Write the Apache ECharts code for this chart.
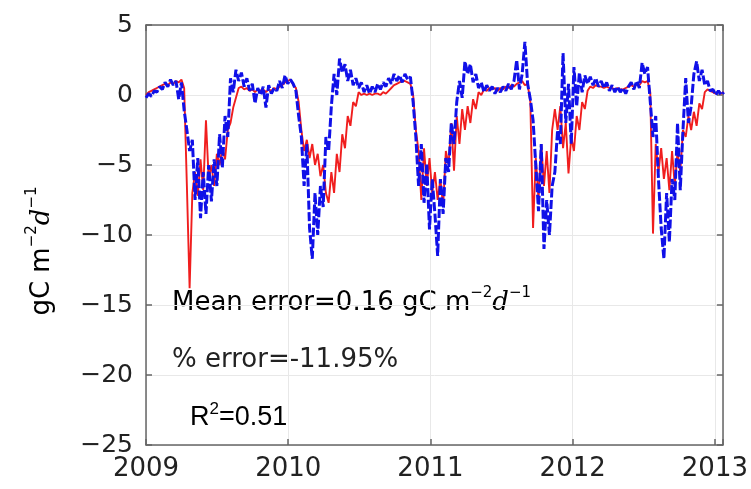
<!DOCTYPE html>
<html>
<head>
<meta charset="utf-8">
<script src="https://cdn.jsdelivr.net/npm/echarts@6/dist/echarts.min.js"></script>
<style>
  html, body { margin: 0; padding: 0; background: #ffffff; }
  #chart { width: 751px; height: 489px; }
</style>
</head>
<body>
<div id="chart"></div>
<script>
// Daily carbon flux, sampled weekly from 1 Jan 2009 (gC m-2 d-1)
const startYear = 2009;
const stepDays = 7;
const yearTicks = [2009, 2010, 2011, 2012, 2013];
const fluxTicks = [5, 0, -5, -10, -15, -20, -25];

// Observed (tower) flux
const observed = [
  -0.2, 0.1, -0.1, 0.3, 0.2, 0.6, 0.4, 0.9, 0.6, 1.1, 0.7, 1.0, -0.3, 0.9,
  -1.1, -2.5, -4.0, -3.2, -7.5, -4.5, -8.8, -5.5, -8.5, -5.0, -7.6, -4.6, -6.5, -2.8, -5.2, -1.5, -3.0,
  1.2, 0.2, 1.8, 1.0, 1.6, 0.6, 1.2, 0.3, 0.8, -0.6, 0.5, 0.0, 0.6, -0.9, 0.7, 0.1, 0.5, 0.3, 1.0, 0.5, 1.4, 0.8,
  1.1, 0.8, 0.3, -1.5, -3.0, -6.5, -3.5, -9.5, -11.7, -7.0, -10.0, -6.5, -8.0, -3.0, -4.0, -0.8,
  1.5, 0.0, 2.6, 1.6, 2.2, 1.0, 1.8, 0.7, 1.2, 0.5, 0.9, 0.2, 0.7, 0.1, 0.6, 0.2, 0.8, 0.4, 0.9, 0.6,
  1.2, 0.8, 1.5, 1.0, 1.4, 0.9, 1.5, 1.1, 1.3,
  -0.5, -3.0, -6.5, -3.5, -7.7, -4.9, -9.6,
  -6.0, -8.5, -11.5, -6.0, -8.5, -4.5, -5.5, -2.0, -3.5, -0.5, 1.0, -0.2, 2.4, 1.5, 2.2, 0.9,
  1.5, 0.5, 0.9, 0.2, 0.7, 0.3, 0.6, 0.1, 0.5, 0.2, 0.6, 0.3, 0.8, 0.4, 1.0,
  2.5, 0.4, 1.5, 3.8, 0.8, -0.3, -1.8, -5.0, -8.3, -3.5, -11.0, -7.5, -10.0, -6.5, -5.5, -2.5, -3.5, 3.0, -2.0, 0.8, -3.5,
  2.0, -0.8, 1.6, 0.2, 1.4, 0.8, 1.3, 0.7, 1.2, 0.6, 1.0, 0.5, 0.9, 0.3, 0.7, 0.2, 0.6, 0.2, 0.5, 0.1,
  0.6, 0.9, 0.4, 1.0, 0.5, 2.3, 1.5, 2.0,
  -0.5, -3.0, -1.5, -6.0, -9.5, -11.7, -7.0, -10.5, -6.0, -7.5, -2.0, -6.8, -2.5, 1.2, -2.0, -0.8,
  1.5, 2.4, 1.0, 1.8, 0.7, 1.0, 0.3, 0.4, 0.0, 0.3, 0.0, 0.2
];

// Modelled flux
const modelled = [
  0.0, 0.2, 0.3, 0.4, 0.5, 0.6, 0.7, 0.8, 0.7, 0.9, 0.8, 1.0, 0.9, 1.1,
  0.5, -6.5, -13.8, -7.0, -5.5, -7.2, -4.6, -6.8, -1.8, -6.0, -5.0, -6.5, -4.2, -5.0, -3.8, -4.6, -2.5, -2.0, -0.9, -0.2, 0.5, 0.6, 0.4,
  0.5, 0.3, 0.4, 0.2, 0.4, 0.3, 0.4, 0.2, 0.4, 0.3, 0.5, 0.4, 0.6, 0.7, 0.9, 1.0,
  1.1, 0.7, 0.5, -0.5, -2.5, -4.0, -3.2, -4.5, -3.5, -5.0, -4.2, -5.8, -5.0, -7.0, -7.7,
  -5.5, -7.0, -4.2, -5.5, -2.8, -3.8, -1.5, -2.2, -0.5, -0.8, 0.2, 0.0, 0.1, 0.0, 0.1,
  0.0, 0.1, 0.1, 0.0, 0.2, 0.1, 0.3, 0.5, 0.7, 0.8, 0.9, 1.0, 1.0, 0.9, 0.8,
  0.0, -2.5, -4.0, -7.5, -3.8, -6.5, -4.5,
  -7.0, -5.5, -7.5, -6.0, -8.0, -4.0, -5.0, -2.0, -5.4, -1.5, -3.5, -1.0, -2.5, -0.8, -2.0,
  -0.3, -1.0, 0.2, 0.0, 0.4, 0.3, 0.5, 0.4, 0.5, 0.3, 0.5, 0.4, 0.6, 0.5, 0.7,
  0.6, 0.8, 0.9, 1.0, 0.7, 0.8, -0.5, -9.5, -4.5, -7.5, -3.5, -6.5, -4.0, -7.0, -2.5,
  -1.0, -2.5, -0.8, -3.8, -2.0, -5.6, -3.0,
  -4.0, -1.5, -2.5, -0.5, -1.0, 0.3, 0.6, 0.5, 0.7, 0.6, 0.6, 0.5, 0.6, 0.5, 0.5,
  0.4, 0.5, 0.4, 0.4, 0.5, 0.6, 0.7, 0.6, 0.8, 0.7, 1.0, 0.9, 1.0, 0.2, -9.9,
  -3.5, -5.5, -3.8, -6.0, -4.5, -6.8, -4.0, -6.5, -4.0, -5.5, -2.5, -3.0, -1.5, -2.5, -1.2,
  -2.2, -0.6, -1.0, 0.2, 0.4, 0.3, 0.2, 0.1, 0.3, 0.1, 0.2
];

const xMin = yearTicks[0];
const xMax = 2013.056;
const yMin = fluxTicks[fluxTicks.length - 1];
const yMax = fluxTicks[0];

const toPairs = arr => arr.map((v, i) => [startYear + (i * stepDays) / 365.25, v]);

const textColor = '#222222';
const frameColor = '#666666';
const sans = 'DejaVu Sans';

const richUnit = {
  t: { fontFamily: sans, fontSize: 26, color: textColor, lineHeight: 34 },
  s: { fontFamily: sans, fontSize: 15, color: '#666666', verticalAlign: 'top', lineHeight: 16 },
  i: { fontFamily: 'DejaVu Serif', fontStyle: 'italic', fontSize: 26, color: '#444444', lineHeight: 34 }
};

const frameAxis = {
  axisLine: { show: true, onZero: false, lineStyle: { color: frameColor, width: 1.5 } },
  axisTick: { show: true, inside: true, length: 6, lineStyle: { color: frameColor, width: 1.5 } }
};

const chart = echarts.init(document.getElementById('chart'), null, { renderer: 'canvas' });

chart.setOption({
  animation: false,
  backgroundColor: '#ffffff',
  grid: { left: 146, right: 27, top: 25, bottom: 44, containLabel: false },
  xAxis: [
    Object.assign({
      type: 'value', min: xMin, max: xMax, interval: 1, position: 'bottom',
      splitLine: { show: true, lineStyle: { color: '#e8e8e8', width: 1 } },
      axisLabel: {
        show: true, margin: 11, fontFamily: sans, fontSize: 26, color: textColor,
        formatter: v => (yearTicks.indexOf(v) >= 0 ? String(v) : '')
      }
    }, frameAxis),
    Object.assign({
      type: 'value', min: xMin, max: xMax, interval: 1, position: 'top',
      splitLine: { show: false }, axisLabel: { show: false }
    }, frameAxis)
  ],
  yAxis: [
    Object.assign({
      type: 'value', min: yMin, max: yMax, interval: 5, position: 'left',
      splitLine: { show: true, lineStyle: { color: '#e8e8e8', width: 1 } },
      axisLabel: {
        show: true, margin: 13, fontFamily: sans, fontSize: 25, color: textColor,
        formatter: v => (v < 0 ? '\u2212' + Math.abs(v) : String(v))
      }
    }, frameAxis),
    Object.assign({
      type: 'value', min: yMin, max: yMax, interval: 5, position: 'right',
      splitLine: { show: false }, axisLabel: { show: false }
    }, frameAxis)
  ],
  series: [
    {
      name: 'Modelled',
      type: 'line',
      data: toPairs(modelled),
      showSymbol: false,
      symbol: 'none',
      z: 2,
      lineStyle: { color: '#f01e1e', width: 1.9 }
    },
    {
      name: 'Observed',
      type: 'line',
      data: toPairs(observed),
      showSymbol: false,
      symbol: 'none',
      z: 3,
      lineStyle: { color: '#1010e8', width: 3, type: [9, 2.5] }
    }
  ],
  graphic: [
    {
      type: 'text', x: 42, y: 251, rotation: Math.PI / 2,
      style: {
        text: '{t|gC m}{s|\u22122}{i|d}{s|\u22121}',
        rich: richUnit, align: 'center', verticalAlign: 'middle'
      }
    },
    {
      type: 'text', x: 172, y: 303,
      style: {
        text: '{t|Mean error=0.16 gC m}{s|\u22122}{i|d}{s|\u22121}',
        rich: richUnit, align: 'left', verticalAlign: 'middle'
      }
    },
    {
      type: 'text', x: 172, y: 360,
      style: {
        text: '% error=-11.95%', fontFamily: sans, fontSize: 26, fill: textColor,
        align: 'left', verticalAlign: 'middle'
      }
    },
    {
      type: 'text', x: 190, y: 418,
      style: {
        text: '{r|R}{u|2}{r|=0.51}',
        rich: {
          r: { fontFamily: 'Liberation Sans', fontSize: 27, color: '#000000', lineHeight: 34 },
          u: { fontFamily: 'Liberation Sans', fontSize: 17, color: '#000000', verticalAlign: 'top', lineHeight: 20 }
        },
        align: 'left', verticalAlign: 'middle'
      }
    }
  ]
});
</script>
</body>
</html>
